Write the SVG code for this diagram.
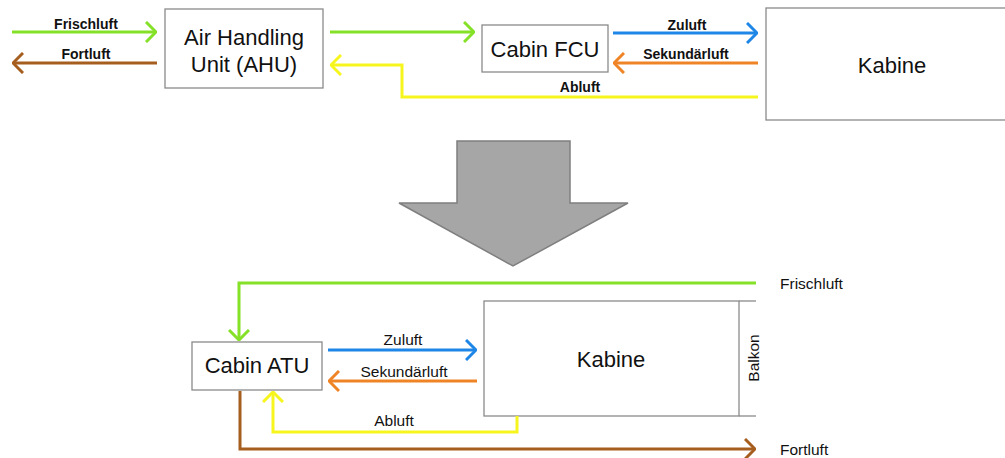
<svg xmlns="http://www.w3.org/2000/svg" width="1005" height="458" viewBox="0 0 1005 458">
<style>
.box{fill:#fff;stroke:#8a8a8a;stroke-width:1.3}
.big{font-family:"Liberation Sans",Arial,sans-serif;font-size:22px;fill:#111;text-anchor:middle}
.lbl{font-family:"Liberation Sans",Arial,sans-serif;font-size:14px;font-weight:bold;fill:#111}
.lbl2{font-family:"Liberation Sans",Arial,sans-serif;font-size:15.5px;fill:#111}
.mid{text-anchor:middle}
.c{fill:none;stroke-width:3}
.g{stroke:#84e128}.br{stroke:#a65e1f}.y{stroke:#f6f61e}.b{stroke:#1e86e6}.o{stroke:#ef8427}
</style>
<defs>
<marker id="mg" viewBox="0 0 12 22" refX="11" refY="11" markerWidth="12" markerHeight="22" markerUnits="userSpaceOnUse" orient="auto"><path d="M1,1 L11,11 L1,21" fill="none" stroke="#84e128" stroke-width="3"/></marker>
<marker id="mbr" viewBox="0 0 12 22" refX="11" refY="11" markerWidth="12" markerHeight="22" markerUnits="userSpaceOnUse" orient="auto"><path d="M1,1 L11,11 L1,21" fill="none" stroke="#a65e1f" stroke-width="3"/></marker>
<marker id="my" viewBox="0 0 12 22" refX="11" refY="11" markerWidth="12" markerHeight="22" markerUnits="userSpaceOnUse" orient="auto"><path d="M1,1 L11,11 L1,21" fill="none" stroke="#f6f61e" stroke-width="3"/></marker>
<marker id="mb" viewBox="0 0 12 22" refX="11" refY="11" markerWidth="12" markerHeight="22" markerUnits="userSpaceOnUse" orient="auto"><path d="M1,1 L11,11 L1,21" fill="none" stroke="#1e86e6" stroke-width="3"/></marker>
<marker id="mo" viewBox="0 0 12 22" refX="11" refY="11" markerWidth="12" markerHeight="22" markerUnits="userSpaceOnUse" orient="auto"><path d="M1,1 L11,11 L1,21" fill="none" stroke="#ef8427" stroke-width="3"/></marker>
</defs>

<g id="ahu">
<rect class="box" x="165" y="9" width="158" height="79"/>
<text class="big" x="244" y="45">Air Handling</text>
<text class="big" x="244" y="72">Unit (AHU)</text>
</g>
<g id="fcu">
<rect class="box" x="482" y="25" width="126" height="47"/>
<text class="big" x="545" y="57">Cabin FCU</text>
</g>
<g id="kabine-top">
<rect class="box" x="766" y="8" width="250" height="112"/>
<text class="big" x="892" y="73">Kabine</text>
</g>

<g id="transition-arrow">
<polygon points="457,141 570,141 570,203 628,203 513,266 399,203 457,203" fill="#a6a6a6" stroke="#7f7f7f" stroke-width="1.5"/>
</g>

<g id="atu">
<rect class="box" x="192" y="342" width="130" height="48"/>
<text class="big" x="257" y="373">Cabin ATU</text>
</g>
<g id="kabine-bottom">
<rect class="box" x="484" y="301" width="255" height="115"/>
<text class="big" x="611" y="367">Kabine</text>
</g>
<g id="balkon">
<line x1="739" y1="301" x2="756" y2="301" stroke="#8a8a8a" stroke-width="1.3"/>
<line x1="739" y1="416" x2="756" y2="416" stroke="#8a8a8a" stroke-width="1.3"/>
<text class="lbl2 mid" transform="translate(759,358) rotate(-90)">Balkon</text>
</g>

<g id="connectors">
<path class="c g" d="M12,32 H156" marker-end="url(#mg)"/>
<path class="c br" d="M157,63 H13" marker-end="url(#mbr)"/>
<path class="c g" d="M330,32 H474" marker-end="url(#mg)"/>
<path class="c b" d="M613,33 H757" marker-end="url(#mb)"/>
<path class="c o" d="M758,63 H614" marker-end="url(#mo)"/>
<path class="c y" d="M758,97 H402 V65 H331" marker-end="url(#my)"/>

<path class="c g" d="M756,283 H239 V340" marker-end="url(#mg)"/>
<path class="c b" d="M328,350 H476" marker-end="url(#mb)"/>
<path class="c o" d="M477,381 H329" marker-end="url(#mo)"/>
<path class="c y" d="M517,416 V432 H273 V392" marker-end="url(#my)"/>
<path class="c br" d="M240,391 V449 H755" marker-end="url(#mbr)"/>

<text class="lbl mid" x="86" y="29">Frischluft</text>
<text class="lbl mid" x="86" y="59">Fortluft</text>
<text class="lbl mid" x="687" y="30">Zuluft</text>
<text class="lbl mid" x="686" y="59">Sekundärluft</text>
<text class="lbl mid" x="580" y="92">Abluft</text>

<text class="lbl2" x="780" y="289">Frischluft</text>
<text class="lbl2 mid" x="403" y="345">Zuluft</text>
<text class="lbl2 mid" x="404" y="377">Sekundärluft</text>
<text class="lbl2 mid" x="394" y="426">Abluft</text>
<text class="lbl2" x="780" y="455">Fortluft</text>
</g>
</svg>
